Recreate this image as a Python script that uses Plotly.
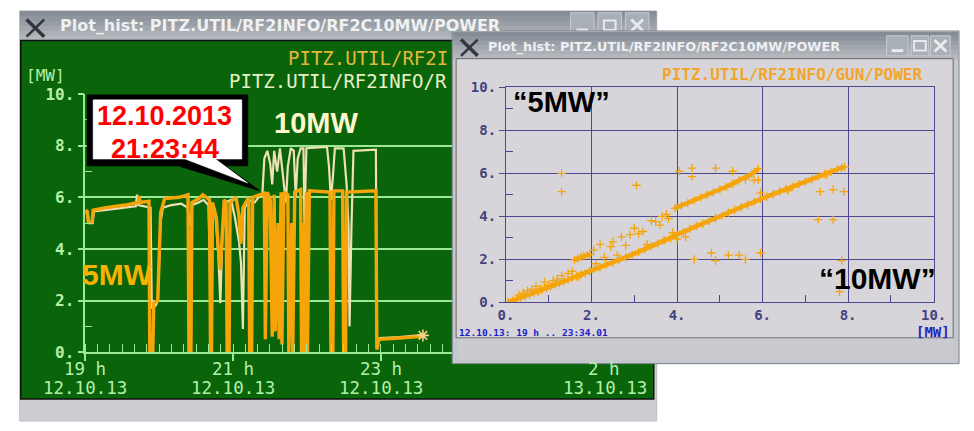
import plotly.graph_objects as go
import pandas as pd

W, H = 974, 431


def X(p):
    return p / W


def Y(p):
    return 1 - p / H


# ---------------- data: left time plot (minutes after 12.10.13 19:00) ----------------
t_10mw = [0, 2, 3, 6, 7, 15, 25, 35, 41, 42, 43, 50, 53, 54, 57, 59, 61, 63, 70, 78,
          83, 85, 87, 92, 96, 100, 102.5, 103.3, 105.7, 108, 109.7, 111.3, 113.6, 118.4,
          121.6, 124.8, 126.4, 128, 129.5, 132.7, 137.5, 140.7, 143.8, 145.4, 147.8, 150.2,
          151.8, 153.4, 155.8, 158.1, 160.5, 162.9, 164.5, 166.9, 169.3, 170.9, 172.5, 174.9,
          177.2, 178, 179.6, 196.3, 197.9, 199.5, 201.1, 202.7, 209.8, 212.2, 213.8, 214.6,
          216.2, 217.8, 236, 236.8, 239.2, 255, 271, 274.2]
p_10mw = [5.40, 5.42, 5.0, 5.0, 5.45, 5.5, 5.58, 5.62, 5.65, 6.1, 5.7, 5.65, 5.6, 1.7, 1.8,
          2.0, 5.0, 5.6, 5.7, 5.75, 5.6, 4.9, 5.7, 5.8, 5.9, 5.7, 0.3, 5.6, 5.3, 3.8, 1.9, 4.5,
          5.8, 5.9, 5.2, 4.3, 3.5, 0.9, 5.6, 5.9, 5.8, 6.0, 6.1, 7.5, 7.8, 7.3, 6.5, 7.8, 7.0,
          7.9, 6.8, 5.8, 7.2, 7.9, 7.8, 6.0, 7.5, 7.9, 7.9, 5.0, 7.9, 7.95, 7.2, 5.9, 6.8, 7.9,
          7.9, 6.5, 4.9, 1.0, 4.9, 7.8, 7.85, 0.45, 0.55, 0.58, 0.65, 0.7]

t_gun = [0, 1.6, 2.4, 5.6, 6.4, 16.7, 32.6, 42.9, 43.7, 44.5, 51.7, 52.4, 54.8, 55.6, 58.8,
         61.2, 64.4, 76.3, 83.4, 84.2, 85.8, 86.6, 92.2, 95.4, 100.9, 101.7, 102.5, 103.3,
         106.5, 108, 109.7, 111.3, 112.8, 114.4, 115.2, 116.8, 117.6, 122.4, 124.8, 126.4,
         128, 132.7, 133.5, 135.1, 135.9, 142.2, 145.4, 146.2, 147.8, 150.2, 151.8, 153.4,
         154.2, 156.6, 157.4, 159, 159.7, 161.3, 164.5, 165.3, 167.7, 168.5, 170.1, 174.9,
         175.6, 177.2, 178, 179.6, 180.4, 182, 198.7, 199.5, 201.1, 201.9, 209, 209.8, 211.4,
         212.2, 236, 236.8, 238.4, 255, 271, 274.2]
p_gun = [5.5, 5.45, 5.05, 5.05, 5.5, 5.6, 5.7, 5.8, 6.05, 5.8, 5.85, 0, 0, 1.9, 2.0, 5.4,
         5.95, 6.0, 6.1, 0, 0, 5.8, 5.95, 6.1, 5.9, 0, 0, 5.8, 5.2, 4.0, 3.2, 4.8, 5.9, 5.8,
         0, 0, 5.8, 6.0, 5.3, 4.2, 5.6, 6.0, 0, 0, 6.0, 6.1, 6.15, 0.5, 6.2, 5.9, 0.6, 6.1,
         0.8, 5.0, 0.5, 6.2, 0.3, 6.2, 6.1, 0, 5.0, 0, 6.2, 6.3, 0, 5.0, 0, 6.2, 0, 6.25,
         6.2, 0, 0, 6.25, 6.25, 0, 0, 6.2, 6.25, 0.1, 0.5, 0.55, 0.6, 0.65]

y_ticks = [0, 2, 4, 6, 8, 10]
y_ticktext = ["0.", "2.", "4.", "6.", "8.", "10."]
hour_ticks = ["19:00", "21:00", "23:00"]
hour_text = ["19 h", "21 h", "23 h"]
date_text = ["12.10.13", "12.10.13", "12.10.13"]

# ---------------- data: right scatter (x = RF2C10MW power, y = GUN power) ----------------
low_x = [0.05, 0.15, 0.25, 0.35, 0.45, 0.55, 0.65, 0.75, 0.85, 0.95, 1.05, 1.15, 1.25, 1.35,
         1.45, 1.55, 1.65, 1.75, 1.85, 1.95, 2.05, 2.2, 2.35, 2.5, 2.65, 2.8, 2.95, 3.1, 3.25,
         3.4, 3.55, 3.7, 3.85, 4.0, 4.15, 4.3, 4.45, 4.6, 4.75, 4.9, 5.05, 5.2, 5.35, 5.5,
         5.65, 5.8, 5.95, 6.1, 6.25, 6.4, 6.55, 6.7, 6.85, 7.0, 7.15, 7.3, 7.45, 7.6, 7.75,
         7.85, 7.92]
low_y = [0.02, 0.08, 0.16, 0.22, 0.3, 0.37, 0.46, 0.5, 0.6, 0.68, 0.76, 0.83, 0.92, 1.0,
         1.06, 1.15, 1.22, 1.3, 1.36, 1.45, 1.55, 1.64, 1.76, 1.86, 1.98, 2.1, 2.2, 2.36,
         2.48, 2.62, 2.74, 2.9, 3.0, 3.16, 3.28, 3.42, 3.56, 3.66, 3.8, 3.93, 4.04, 4.18,
         4.3, 4.43, 4.54, 4.68, 4.8, 4.92, 5.04, 5.16, 5.28, 5.38, 5.5, 5.62, 5.74, 5.86,
         5.97, 6.08, 6.2, 6.27, 6.3]
upa_x = [1.6, 1.68, 1.75, 1.82, 1.9, 1.96]
upa_y = [1.98, 2.05, 2.12, 2.16, 2.2, 2.22]
upb_x = [3.95, 4.1, 4.25, 4.4, 4.55, 4.7, 4.85, 5.0, 5.15, 5.3, 5.45, 5.6, 5.75, 5.9]
upb_y = [4.38, 4.5, 4.62, 4.75, 4.88, 5.0, 5.12, 5.25, 5.38, 5.52, 5.68, 5.82, 5.98, 6.22]
sc_x = [0.3, 0.4, 0.5, 0.6, 0.7, 0.8, 0.9, 1.0, 1.1, 1.2, 1.3, 1.45, 1.55, 1.7, 2.05, 2.1,
        2.2, 2.3, 2.45, 2.5, 2.6, 2.7, 2.8, 2.9, 3.0, 3.1, 3.2, 3.3, 3.4, 3.5, 3.6, 3.65,
        3.7, 3.75, 3.8, 3.9, 4.0, 4.2, 4.4, 1.3, 1.3, 3.05, 4.05, 4.35, 4.35, 4.9, 5.3, 5.95,
        7.35, 7.65, 7.9, 7.3, 7.65, 4.8, 4.9, 5.2, 5.45, 5.6, 5.95, 7.85, 7.8, 5.6, 5.8, 5.9,
        6.6, 7.5]
sc_y = [0.35, 0.45, 0.55, 0.62, 0.75, 0.62, 0.95, 0.8, 1.02, 1.1, 1.25, 1.35, 1.45, 1.2,
        2.45, 1.8, 2.7, 2.1, 2.6, 2.82, 2.2, 3.05, 2.65, 3.15, 3.45, 3.2, 3.3, 2.7, 3.8,
        3.75, 3.6, 4.0, 2.9, 4.1, 3.9, 3.25, 2.95, 3.05, 2.0, 6.0, 5.15, 5.45, 6.1, 6.25,
        5.85, 6.25, 6.1, 5.1, 5.15, 5.25, 5.15, 3.85, 3.85, 2.3, 1.95, 2.2, 2.2, 2.0, 2.3,
        1.95, 0.5, 5.72, 5.68, 5.7, 5.2, 5.95]
r_ticks = [0, 2, 4, 6, 8, 10]
r_ticktext = ["0.", "2.", "4.", "6.", "8.", "10."]

# ---------------- styles ----------------
GREEN_BG = "#0a640a"
GL = "#9be896"
LBL = "#b4f0aa"
ORANGE = "#f5a50a"
CREAM = "#efe0b4"
BL = "#4a4890"
BLT = "#45427e"
PANEL = "#d7d5d9"
MONO = "DejaVu Sans Mono"
SANS = "Liberation Sans, Arial"

day = pd.Timestamp("2013-10-12 19:00:00")
x_10 = [day + pd.Timedelta(minutes=m) for m in t_10mw]
x_gun = [day + pd.Timedelta(minutes=m) for m in t_gun]
tickdates = [pd.Timestamp("2013-10-12 " + h) for h in hour_ticks]

fig = go.Figure()
fig.add_trace(go.Scatter(x=x_10, y=p_10mw, mode="lines", line=dict(color=CREAM, width=2.2),
                         xaxis="x", yaxis="y", hoverinfo="skip"))
fig.add_trace(go.Scatter(x=x_gun, y=p_gun, mode="lines", line=dict(color=ORANGE, width=3.4),
                         xaxis="x", yaxis="y", hoverinfo="skip"))
fig.add_trace(go.Scatter(x=[x_gun[-1]], y=[p_gun[-1]], mode="markers",
                         marker=dict(symbol="asterisk-open", size=10, color="#f6d48a",
                                     line=dict(color="#f6d48a", width=1.6)),
                         xaxis="x", yaxis="y", hoverinfo="skip"))

mk = dict(symbol="cross-thin-open", size=6, color=ORANGE, line=dict(color=ORANGE, width=1.3))
for xs, ys in [(low_x, low_y), (upa_x, upa_y), (upb_x, upb_y)]:
    fig.add_trace(go.Scatter(x=xs, y=ys, mode="lines+markers", line=dict(color=ORANGE, width=4.5),
                             marker=mk, xaxis="x2", yaxis="y2", hoverinfo="skip"))
fig.add_trace(go.Scatter(x=sc_x, y=sc_y, mode="markers", marker=mk, xaxis="x2", yaxis="y2",
                         hoverinfo="skip"))

shapes = []


def rect(x0, y0, x1, y1, fill, line=None, width=0, layer="below"):
    shapes.append(dict(type="rect", xref="paper", yref="paper", x0=X(x0), x1=X(x1),
                       y0=Y(y1), y1=Y(y0), fillcolor=fill, layer=layer,
                       line=dict(color=line or fill, width=width)))


def seg(x0, y0, x1, y1, color, width, layer="below"):
    shapes.append(dict(type="line", xref="paper", yref="paper", x0=X(x0), x1=X(x1),
                       y0=Y(y0), y1=Y(y1), layer=layer, line=dict(color=color, width=width)))


def path(pts, fill, line, width, layer="above"):
    d = "M " + " L ".join(f"{X(a):.5f},{Y(b):.5f}" for a, b in pts) + " Z"
    shapes.append(dict(type="path", xref="paper", yref="paper", path=d, fillcolor=fill,
                       layer=layer, line=dict(color=line, width=width)))


def titlebar(x0, y0, x1, y1):
    cols = ["#868d96", "#8f969e", "#989ea6", "#a2a7ae", "#abb0b6", "#b3b7bc"]
    n = len(cols)
    h = (y1 - y0) / n
    for i, c in enumerate(cols):
        rect(x0, y0 + i * h, x1, y0 + (i + 1) * h + 0.5, c)


def xlogo(x0, y0, x1, y1):
    seg(x0, y0, x1, y1, "#33373c", 3.5)
    seg(x1, y0, x0, y1, "#33373c", 2.5)


def buttons(xs, y0, y1):
    for k, (a, b) in enumerate(xs):
        rect(a, y0, b, y1, "#a9afb7", "#c8ccd2", 1)
        cx, cy = (a + b) / 2, (y0 + y1) / 2
        if k == 0:
            seg(cx - 6, cy + 5, cx + 6, cy + 5, "#e8eaec", 3)
        elif k == 1:
            shapes.append(dict(type="rect", xref="paper", yref="paper", x0=X(cx - 6),
                               x1=X(cx + 6), y0=Y(cy + 5), y1=Y(cy - 5), layer="below",
                               line=dict(color="#e8eaec", width=2)))
        else:
            seg(cx - 6, cy - 6, cx + 6, cy + 6, "#e8eaec", 3)
            seg(cx + 6, cy - 6, cx - 6, cy + 6, "#e8eaec", 3)


# left window
rect(12, 2, 663, 431, "#cdcdd1", "#b9bdc3", 1)
titlebar(12, 2, 663, 33)
xlogo(19, 11, 37, 29)
buttons([(575, 599), (603, 627), (631, 655)], 4, 30)
rect(13, 33, 660, 408, GREEN_BG, "#101010", 1.5)

# right window
rect(454, 23, 972, 371, "#c4c8ce", "#7c828a", 1)
titlebar(455, 24, 971, 52)
xlogo(463, 32, 480, 49)
buttons([(898, 920), (923, 941), (943, 963)], 28, 49)
rect(458, 52, 966, 344, PANEL, "#6a6a6e", 1)
rect(459, 345, 966, 367, "#cacacf")

# callout bubble (above data)
path([(81, 90), (245, 90), (245, 164), (222, 164), (257, 190), (174, 164), (81, 164)],
     "#000000", "#000000", 1)
path([(87, 95), (239, 95), (239, 157), (212, 157), (245, 182), (181, 157), (87, 157)],
     "#ffffff", "#ffffff", 0.5)

ann = []


def text(s, x, y, size, color, family=MONO, weight="normal", xanchor="center", xref="paper"):
    ann.append(dict(text=s, x=x if xref != "paper" else X(x), y=Y(y), xref=xref, yref="paper",
                    xanchor=xanchor, yanchor="middle", showarrow=False,
                    font=dict(family=family, size=size, color=color, weight=weight)))


# window titles
text("Plot_hist: PITZ.UTIL/RF2INFO/RF2C10MW/POWER", 51, 17, 16, "#eef0f2", "DejaVu Sans",
     "bold", "left")
text("Plot_hist: PITZ.UTIL/RF2INFO/RF2C10MW/POWER", 489, 40, 12.8, "#eef0f2", "DejaVu Sans",
     "bold", "left")

# left panel texts
text("PITZ.UTIL/RF2I", 284, 51, 19, "#e4b83a", xanchor="left")
text("PITZ.UTIL/RF2INFO/R", 224, 75, 19, "#e6f0c4", xanchor="left")
text("[MW]", 16, 70, 16, LBL, xanchor="left")
for d, h, dt in zip(tickdates, hour_text, date_text):
    text(h, d, 377, 17.5, LBL, xref="x")
    text(dt, d, 396, 17.5, LBL, xref="x")
text("2 h", 609, 377, 17.5, LBL)
text("13.10.13", 610, 396, 17.5, LBL)
text("10MW", 315, 119, 29, "#fff8cc", SANS, "bold")
text("5MW", 112, 278, 30, "#f6b200", SANS, "bold")
text("12.10.2013", 160, 112, 27, "#ff0000", SANS, "bold")
text("21:23:44", 160, 146, 27, "#ff0000", SANS, "bold")

# right panel texts
text("PITZ.UTIL/RF2INFO/GUN/POWER", 936, 68, 16, "#f2a52a", MONO, "bold", "right")
text("12.10.13: 19 h .. 23:34.01", 459, 338, 9.5, "#1a1ac8", MONO, "bold", "left")
text("[MW]", 965, 338, 14, "#2424c0", MONO, "bold", "right")
text("\u201c5MW\u201d", 566, 97, 29, "#000000", SANS, "bold")
text("\u201c10MW\u201d", 889, 282, 30, "#000000", SANS, "bold")

fig.update_layout(
    width=W, height=H, autosize=False,
    margin=dict(l=0, r=0, t=0, b=0, pad=0),
    paper_bgcolor="#ffffff", plot_bgcolor="rgba(0,0,0,0)",
    showlegend=False,
    shapes=shapes, annotations=ann,
    xaxis=dict(domain=[X(79), X(454)], anchor="y", type="date",
               range=[day, day + pd.Timedelta(minutes=298)],
               showgrid=False, zeroline=False, showline=True, linecolor=GL, linewidth=1.5,
               tickmode="array", tickvals=tickdates, ticks="outside", ticklen=7, tickwidth=1.5,
               tickcolor=GL, showticklabels=False, fixedrange=True,
               minor=dict(tickmode="linear", tick0=day, dtick=600000, ticks="inside",
                          ticklen=8, tickwidth=1.2, tickcolor=GL, showgrid=False)),
    yaxis=dict(domain=[Y(359), Y(89)], anchor="x", range=[0, 10], tickmode="array",
               tickvals=y_ticks, ticktext=y_ticktext, ticks="outside", ticklen=6, tickwidth=1.5,
               tickcolor=GL, showgrid=True, gridcolor=GL, gridwidth=1.5, zeroline=False,
               showline=True, linecolor=GL, linewidth=1.5, fixedrange=True,
               tickfont=dict(family=MONO, size=16, color=LBL, weight="bold"),
               minor=dict(tickmode="array", tickvals=[1, 3, 5, 7, 9], ticks="inside",
                          ticklen=7, tickwidth=1.2, tickcolor=GL, showgrid=False)),
    xaxis2=dict(domain=[X(509), X(946)], anchor="y2", range=[0, 10], tickmode="array",
                tickvals=r_ticks, ticktext=r_ticktext, ticks="", showgrid=True, gridcolor=BL,
                gridwidth=1.2, zeroline=False, showline=True, mirror=True, linecolor=BL,
                linewidth=1.2, fixedrange=True,
                tickfont=dict(family=MONO, size=14, color=BLT, weight="bold"),
                minor=dict(tickmode="array", tickvals=[1, 3, 5, 7, 9], ticks="inside",
                           ticklen=7, tickwidth=1.2, tickcolor=BL, showgrid=False)),
    yaxis2=dict(domain=[Y(307), Y(82)], anchor="x2", range=[0, 10], tickmode="array",
                tickvals=r_ticks, ticktext=r_ticktext, ticks="outside", ticklen=6,
                tickwidth=1.2, tickcolor=BL, showgrid=True, gridcolor=BL, gridwidth=1.2,
                zeroline=False, showline=True, mirror=True, linecolor=BL, linewidth=1.2,
                fixedrange=True,
                tickfont=dict(family=MONO, size=14, color=BLT, weight="bold"),
                minor=dict(tickmode="array", tickvals=[1, 3, 5, 7, 9], ticks="inside",
                           ticklen=7, tickwidth=1.2, tickcolor=BL, showgrid=False)),
)

fig.write_html("out.html", config={"displayModeBar": False},
               post_script="document.body.style.margin='0px';"
                           "document.body.style.overflow='hidden';")
